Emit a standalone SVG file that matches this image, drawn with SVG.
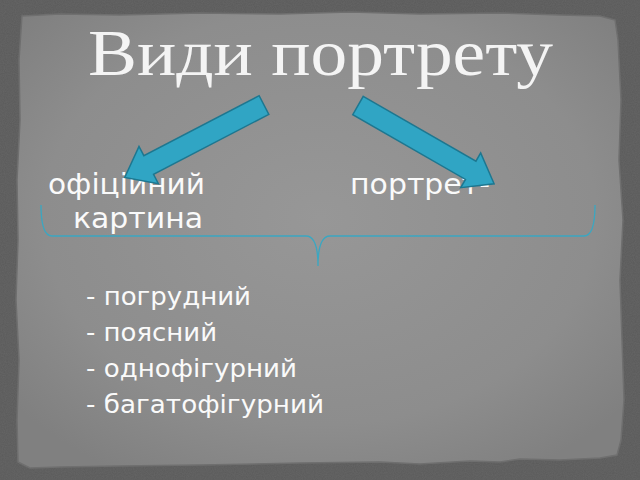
<svg xmlns="http://www.w3.org/2000/svg" width="640" height="480" viewBox="0 0 640 480">
  <defs>
    <radialGradient id="paperGrad" cx="50%" cy="45%" r="65%">
      <stop offset="0" stop-color="#979797"/>
      <stop offset="0.7" stop-color="#8d8d8d"/>
      <stop offset="1" stop-color="#808080"/>
    </radialGradient>
    <filter id="noise" x="0" y="0" width="100%" height="100%">
      <feTurbulence type="fractalNoise" baseFrequency="0.9" numOctaves="2" seed="3" result="n"/>
      <feColorMatrix type="matrix" values="0 0 0 0 0.5  0 0 0 0 0.5  0 0 0 0 0.5  0 0 0 0.12 0"/>
    </filter>
    <style>
      .txt { font-family: "DejaVu Sans", "Noto Sans", sans-serif; fill: #fafafa; }
      .arrow { fill: #30a5c4; stroke: #1d7790; stroke-width: 1.5; stroke-linejoin: miter; }
      .brace { fill: none; stroke: #3aa7c2; stroke-width: 1.3; }
    </style>
  </defs>

  <!-- background -->
  <rect x="0" y="0" width="640" height="480" fill="#5a5a5a"/>
  <rect x="0" y="0" width="640" height="480" filter="url(#noise)"/>
  <path d="M22,16 L60,14 L120,15 L200,13 L280,14 L350,12 L420,14 L500,13 L560,15 L600,16 L615,20 L618,40 L621,100 L619,160 L623,220 L620,280 L622,340 L624,400 L621,440 L617,455 L600,458 L560,460 L520,459 L500,462 L470,461 L420,464 L380,462 L300,463 L200,465 L120,466 L60,467 L30,468 L18,462 L17,420 L19,360 L16,300 L18,240 L17,180 L20,120 L19,60 L21,30 Z" fill="url(#paperGrad)" stroke="#6f6f6f" stroke-width="1.5"/>

  <!-- title -->
  <g id="title">
    <text x="88" y="75" font-family="Liberation Serif, serif" font-size="66" fill="#f4f4f4" textLength="465" lengthAdjust="spacingAndGlyphs">Види портрету</text>
  </g>

  <!-- nodes -->
  <g id="node-official">
    <text class="txt" x="48" y="194" font-size="29" textLength="157" lengthAdjust="spacingAndGlyphs">офіційний</text>
  </g>
  <g id="node-picture">
    <text class="txt" x="350" y="194" font-size="29" textLength="140" lengthAdjust="spacingAndGlyphs">портрет-</text>
    <text class="txt" x="73" y="228" font-size="29" textLength="130" lengthAdjust="spacingAndGlyphs">картина</text>
  </g>
  <g id="list">
    <text class="txt" x="86" y="305" font-size="25" textLength="165" lengthAdjust="spacingAndGlyphs">- погрудний</text>
    <text class="txt" x="86" y="341" font-size="25" textLength="131" lengthAdjust="spacingAndGlyphs">- поясний</text>
    <text class="txt" x="86" y="377" font-size="25" textLength="211" lengthAdjust="spacingAndGlyphs">- однофігурний</text>
    <text class="txt" x="86" y="413" font-size="25" textLength="238" lengthAdjust="spacingAndGlyphs">- багатофігурний</text>
  </g>

  <!-- connectors -->
  <g id="connectors">
    <path class="arrow" transform="translate(264,105) rotate(152.5)" d="M0,-10.5 L130,-10.5 L130,-21 L157,0 L130,21 L130,10.5 L0,10.5 Z"/>
    <path class="arrow" transform="translate(358,105.5) rotate(29.9)" d="M0,-10.5 L130,-10.5 L130,-20 L157,0 L130,20 L130,10.5 L0,10.5 Z"/>
    <path class="brace" d="M41,205 Q41,236 52,236 L306,236 Q318,236 318,266 Q318,236 330,236 L584,236 Q595,236 595,205"/>
  </g>
</svg>
